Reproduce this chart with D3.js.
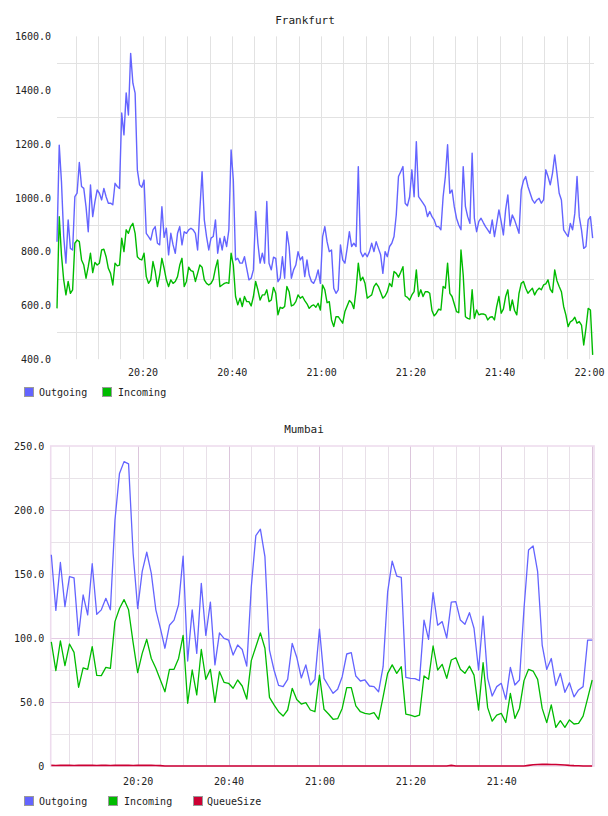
<!DOCTYPE html>
<html><head><meta charset="utf-8">
<script src="https://cdn.jsdelivr.net/npm/d3@7"></script>
<style>
body{margin:0;background:#fff}
svg{display:block}
text{font-family:"DejaVu Sans Mono",monospace;fill:#222}
</style>
</head><body>
<svg id="chart" width="608" height="816"></svg>
<script>
// ---------- DATA ----------
const frankfurtTitle = "Frankfurt";
const frankfurtStart = "20:00:50";
const frankfurtStepSec = 30;
const frankfurtOutgoing = [
837,1196,1060,856,757,918,812,806,1004,1017,
1131,1042,1035,967,874,1048,930,986,1029,1017,
992,1035,1004,980,980,974,1054,1042,1035,1315,
1234,1390,1308,1537,1426,1389,1104,1048,1039,1066,
868,856,843,881,893,831,825,967,853,887,
788,868,825,794,868,893,825,874,868,881,
887,881,868,806,955,1097,918,856,806,850,
856,918,794,850,806,856,819,881,1178,1066,
769,775,757,757,781,738,695,701,732,949,
831,757,794,757,986,757,732,779,775,688,
701,781,701,874,819,701,732,750,800,769,
781,707,769,713,689,682,701,732,682,856,
893,
837,800,806,664,645,658,825,769,757,812,
874,819,831,819,1116,800,781,794,781,800,
831,800,837,812,788,719,800,781,819,831,
856,936,1079,1097,1116,980,970,1004,1104,1004,
1209,1004,992,980,967,930,949,930,918,893,
893,881,1004,1079,1197,1017,1029,967,924,899,
881,1116,967,930,905,1166,924,874,912,924,
908,893,881,868,918,856,905,955,912,862,
955,1011,896,936,918,893,868,1029,1064,1079,
1042,1017,992,980,992,998,980,992,1104,1079,
1048,1091,1159,1091,1017,992,881,868,856,905,
881,942,1079,930,881,812,819,918,930,850
];
const frankfurtIncoming = [
589,930,788,695,639,689,645,658,831,843,
837,769,750,701,744,794,722,760,750,757,
806,809,781,738,719,676,757,747,750,850,
800,881,868,893,905,868,781,772,769,794,
707,682,695,763,726,670,713,775,738,695,
670,695,682,689,707,750,775,670,689,742,
729,726,689,719,750,742,695,682,676,682,
697,738,769,670,676,682,685,682,794,750,
633,602,627,596,633,614,614,598,633,689,
658,620,639,639,658,614,620,667,645,565,
593,589,596,670,651,598,602,614,639,627,
633,618,606,589,598,602,593,608,583,676,
658,
610,614,546,521,558,558,546,534,577,598,
618,610,588,658,757,692,705,682,627,633,
639,670,682,670,649,627,635,651,682,670,
726,719,705,723,744,635,630,620,639,651,
732,633,658,633,651,651,645,581,561,571,
586,583,670,664,757,645,633,605,577,573,
806,713,558,552,549,658,552,583,565,568,
568,565,546,556,558,546,596,633,571,586,
633,658,581,620,581,565,645,682,689,664,
645,655,664,639,655,664,658,676,680,695,
660,648,732,692,670,651,596,565,521,539,
544,556,534,540,527,453,515,589,583,416
];
const frankfurtYTicks = [400,600,800,1000,1200,1400,1600];
const frankfurtYGrid = [500,700,900,1100,1300,1500];
const frankfurtXTicks = ["20:20","20:40","21:00","21:20","21:40","22:00"];
const frankfurtSeries = ["Outgoing","Incoming"];

const mumbaiTitle = "Mumbai";
const mumbaiStart = "20:01:00";
const mumbaiStepSec = 60;
const mumbaiOutgoing = [
165,121.6,159,124.5,148,147,102,133.6,118,158,
118.5,122,131,122,192,228.6,237.8,236,166,123,
152,167,150.5,122,107.5,92,110,114,126,164,
82,122,88,142.7,102,128,79,104,99.7,98.4,
86.7,94.5,91,78,140,180,185,163.5,90.6,75,
63,62,67.7,95.8,85,68.8,79,63.3,67.7,107,
68.5,62.5,56.8,60,69.8,87.5,88.5,70.3,66.4,67.2,
62.5,62,58,77.6,136,160,148.4,147.4,69.3,68.5,
68.2,66.7,114,99,135.4,110,112.8,100,128,128.4,
114,110.7,119.8,107.6,75,117,68.5,54.7,62,64.6,
52,77,63.3,67.2,123,168.8,171.9,151.8,94.5,75.5,
84,62.8,72.4,57.6,65,54,59.4,62,98.4,98.4
];
const mumbaiIncoming = [
97,74.5,97.7,78.4,95.3,88.8,61.5,76.6,75.5,93.2,
70.8,70.6,77,76.3,112.8,123,130,122,96.4,73,
88,99,84,76.3,67.2,58,75.5,75.5,84,102,
49,75,55.5,91,67.7,75.5,49.7,73.7,65.4,64.6,
60.7,67.2,62.5,52.3,82.3,93.2,104,92,53.6,47.7,
42.4,39,43.75,60.7,52,48.4,49.5,43.75,42.4,71,
44.3,40.6,36.5,37,45,61.2,61.2,46.9,42.4,41.1,
40.6,41.7,36.5,54,72.4,79,72.4,77.6,40.6,39.8,
38.5,39.8,70.3,67.7,93.75,75,79.4,68.5,82.8,84.6,
75.5,72.4,78,71,43.75,80.7,45.6,35,39.8,41.1,
34,56.8,37.2,45,66.7,75.5,74.2,67.7,45,33.9,
47.7,30.2,35.4,30.2,36,32.8,33.3,39,52.9,67.2
];
const mumbaiQueueSize = [
0.5,0.4,0.5,0.6,0.5,0.4,0.5,0.5,0.6,0.5,
0.4,0.5,0.5,0.4,0.5,0.6,0.5,0.5,0.4,0.5,
0.5,0.6,0.5,0.4,0.3,0,0,0,0,0,
0,0,0,0,0,0,0,0,0,0,
0,0,0,0,0,0,0,0,0,0,
0,0,0,0,0,0,0,0,0,0,
0,0,0,0,0,0,0,0,0,0,
0,0,0,0,0,0,0,0,0,0,
0,0,0,0,0,0,0,0,0.5,0,
0,0,0,0,0,0,0,0,0,0,
0,0,0,0,0,0.5,1,1.2,1.3,1.3,
1.2,1.2,1,0.8,0.5,0.3,0.2,0,0,0
];
const mumbaiYTicks = [0,50,100,150,200,250];
const mumbaiYGrid = [25,50,75,100,125,150,175,200,225];
const mumbaiXTicks = ["20:20","20:40","21:00","21:20","21:40"];
const mumbaiSeries = ["Outgoing","Incoming","QueueSize"];

const seriesColors = {Outgoing:"#6464ff", Incoming:"#00bb00", QueueSize:"#cc0033"};

// ---------- DRAW ----------
const parseT = d3.timeParse("%H:%M:%S");
const parseHM = d3.timeParse("%H:%M");
const svg = d3.select("#chart");

function timesFor(start, step, n){
  const t0 = parseT(start);
  return d3.range(n).map(i => new Date(t0.getTime() + i*step*1000));
}

function legend(g, names, xs, y){
  names.forEach((n,i)=>{
    g.append("rect").attr("x",xs[i][0]+0.5).attr("y",y+0.5).attr("width",9).attr("height",9)
      .attr("fill",seriesColors[n]).attr("stroke","#9a9a9a").attr("stroke-width",1);
    g.append("text").attr("x",xs[i][1]).attr("y",y+8.5).attr("font-size",10).text(n);
  });
}

// ---- Frankfurt ----
(function(){
  const g = svg.append("g");
  const x = d3.scaleTime().domain([parseT("20:00:50"), parseT("22:01:08")]).range([57,594]);
  const y = d3.scaleLinear().domain([400,1600]).range([359.2,36.4]);
  const times = timesFor(frankfurtStart, frankfurtStepSec, frankfurtOutgoing.length);

  g.append("text").attr("x",305).attr("y",24).attr("text-anchor","middle").attr("font-size",11).text(frankfurtTitle);

  const vt = x.ticks(d3.timeMinute.every(5));
  g.selectAll(".vg").data(vt).join("line")
    .attr("x1",d=>Math.round(x(d))+0.5).attr("x2",d=>Math.round(x(d))+0.5)
    .attr("y1",y(1600)).attr("y2",y(400)).attr("stroke","#e2e2e2").attr("stroke-width",1);
  g.selectAll(".hg").data(frankfurtYGrid).join("line")
    .attr("x1",57).attr("x2",594)
    .attr("y1",d=>Math.round(y(d))+0.5).attr("y2",d=>Math.round(y(d))+0.5)
    .attr("stroke","#e2e2e2").attr("stroke-width",1);

  const yAxis = d3.axisLeft(y).tickValues(frankfurtYTicks).tickSize(0).tickPadding(6)
    .tickFormat(d=>d===0?"0":d3.format(".1f")(d));
  const ya = g.append("g").attr("transform","translate(57,0)").call(yAxis);
  ya.select(".domain").remove();
  ya.selectAll("text").attr("font-size",10).attr("font-family","DejaVu Sans Mono").attr("fill","#222");

  const xAxis = d3.axisBottom(x).tickValues(frankfurtXTicks.map(parseHM)).tickSize(0).tickPadding(10)
    .tickFormat(d3.timeFormat("%H:%M"));
  const xa = g.append("g").attr("transform","translate(0,359)").call(xAxis);
  xa.select(".domain").remove();
  xa.selectAll("text").attr("font-size",10).attr("font-family","DejaVu Sans Mono").attr("fill","#222");

  const line = d3.line().x((d,i)=>x(times[i])).y(d=>y(d));
  g.append("path").datum(frankfurtIncoming).attr("d",line).attr("fill","none")
    .attr("stroke",seriesColors.Incoming).attr("stroke-width",1.4).attr("stroke-linejoin","round");
  g.append("path").datum(frankfurtOutgoing).attr("d",line).attr("fill","none")
    .attr("stroke",seriesColors.Outgoing).attr("stroke-width",1.4).attr("stroke-linejoin","round");

  legend(g, frankfurtSeries, [[24,39],[102,118]], 387);
})();

// ---- Mumbai ----
(function(){
  const g = svg.append("g");
  const x = d3.scaleTime().domain([parseT("20:00:52"), parseT("22:00:24")]).range([50.7,594]);
  const y = d3.scaleLinear().domain([0,250]).range([766,446]);
  const times = timesFor(mumbaiStart, mumbaiStepSec, mumbaiOutgoing.length);

  g.append("text").attr("x",304).attr("y",433).attr("text-anchor","middle").attr("font-size",11).text(mumbaiTitle);

  const vt = x.ticks(d3.timeMinute.every(5));
  g.selectAll(".vg").data(vt).join("line")
    .attr("x1",d=>Math.round(x(d))+0.5).attr("x2",d=>Math.round(x(d))+0.5)
    .attr("y1",y(250)).attr("y2",y(0))
    .attr("stroke",d=>d.getMinutes()%20===0?"#dcc6dc":"#e8e0e8").attr("stroke-width",1);
  g.selectAll(".hg").data(mumbaiYGrid).join("line")
    .attr("x1",50.7).attr("x2",594)
    .attr("y1",d=>Math.round(y(d))+0.5).attr("y2",d=>Math.round(y(d))+0.5)
    .attr("stroke",d=>d%50===0?"#e4cce4":"#e8e3e8").attr("stroke-width",1);
  g.append("rect").attr("x",50.7).attr("y",y(250)).attr("width",594-50.7).attr("height",y(0)-y(250))
    .attr("fill","none").attr("stroke","#eedcee").attr("stroke-width",1.6);

  const yAxis = d3.axisLeft(y).tickValues(mumbaiYTicks).tickSize(0).tickPadding(6.5)
    .tickFormat(d=>d===0?"0":d3.format(".1f")(d));
  const ya = g.append("g").attr("transform","translate(50.7,0)").call(yAxis);
  ya.select(".domain").remove();
  ya.selectAll("text").attr("font-size",10).attr("font-family","DejaVu Sans Mono").attr("fill","#222");

  const xAxis = d3.axisBottom(x).tickValues(mumbaiXTicks.map(parseHM)).tickSize(0).tickPadding(12)
    .tickFormat(d3.timeFormat("%H:%M"));
  const xa = g.append("g").attr("transform","translate(0,766)").call(xAxis);
  xa.select(".domain").remove();
  xa.selectAll("text").attr("font-size",10).attr("font-family","DejaVu Sans Mono").attr("fill","#222");

  const line = d3.line().x((d,i)=>x(times[i])).y(d=>y(d));
  g.append("path").datum(mumbaiOutgoing).attr("d",line).attr("fill","none")
    .attr("stroke",seriesColors.Outgoing).attr("stroke-width",1.3).attr("stroke-linejoin","round");
  g.append("path").datum(mumbaiIncoming).attr("d",line).attr("fill","none")
    .attr("stroke",seriesColors.Incoming).attr("stroke-width",1.3).attr("stroke-linejoin","round");
  g.append("path").datum(mumbaiQueueSize).attr("d",line).attr("fill","none")
    .attr("stroke",seriesColors.QueueSize).attr("stroke-width",1.6).attr("stroke-linejoin","round");

  legend(g, mumbaiSeries, [[24,39],[108,124],[193,207]], 796);
})();
</script>
</body></html>
